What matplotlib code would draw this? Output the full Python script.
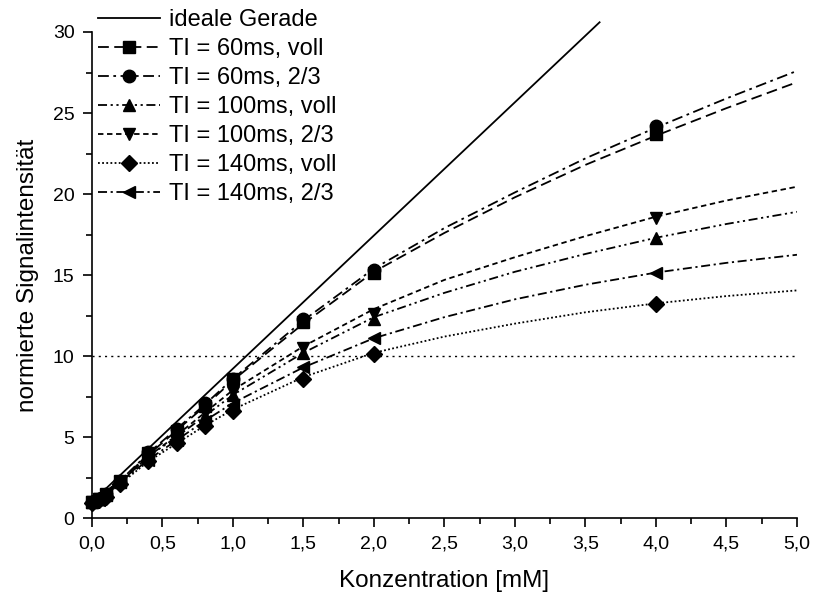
import numpy as np
import matplotlib
matplotlib.use("Agg")
import matplotlib.pyplot as plt
from matplotlib.ticker import MultipleLocator, FuncFormatter

plt.rcParams["font.family"] = ["Liberation Sans", "DejaVu Sans"]

# ── DATA ─────────────────────────────────────────────────────────────────────
conc = [0.0, 0.05, 0.1, 0.2, 0.4, 0.6, 0.8, 1.0, 1.5, 2.0, 4.0]

ti60_voll  = [1.0, 1.2, 1.5, 2.3, 4.0, 5.4, 6.9, 8.6, 12.1, 15.1, 23.7]
ti60_23    = [1.0, 1.2, 1.5, 2.3, 4.1, 5.5, 7.1, 8.6, 12.3, 15.3, 24.2]
ti100_voll = [1.0, 1.2, 1.4, 2.2, 3.8, 5.0, 6.3, 7.6, 10.2, 12.3, 17.3]
ti100_23   = [1.0, 1.2, 1.4, 2.2, 3.8, 5.1, 6.5, 7.8, 10.5, 12.6, 18.5]
ti140_voll = [0.9, 1.1, 1.3, 2.1, 3.5, 4.6, 5.7, 6.6, 8.6, 10.1, 13.2]
ti140_23   = [1.0, 1.1, 1.4, 2.2, 3.6, 4.8, 6.0, 7.0, 9.3, 11.1, 15.1]

# fitted curves, read at these concentrations
fit_x          = [0.0, 0.2, 0.4, 0.6, 0.8, 1.0, 1.5, 2.0, 2.5, 3.0, 3.5, 4.0, 4.5, 5.0]
fit_ti60_voll  = [1.0, 2.3, 3.9, 5.4, 6.9, 8.5, 12.0, 15.2, 17.6, 19.8, 21.8, 23.6, 25.3, 26.9]
fit_ti60_23    = [1.0, 2.3, 4.0, 5.5, 7.0, 8.6, 12.2, 15.4, 17.9, 20.1, 22.2, 24.1, 25.9, 27.6]
fit_ti100_voll = [1.0, 2.2, 3.8, 5.0, 6.3, 7.6, 10.2, 12.4, 13.9, 15.2, 16.3, 17.3, 18.15, 18.9]
fit_ti100_23   = [1.0, 2.2, 3.8, 5.1, 6.5, 7.9, 10.6, 12.9, 14.7, 16.1, 17.4, 18.6, 19.6, 20.45]
fit_ti140_voll = [0.9, 2.1, 3.5, 4.6, 5.7, 6.7, 8.7, 10.2, 11.2, 12.0, 12.7, 13.25, 13.7, 14.05]
fit_ti140_23   = [1.0, 2.2, 3.6, 4.8, 6.0, 7.1, 9.3, 11.1, 12.4, 13.5, 14.4, 15.15, 15.75, 16.25]

ideal_x = [0.0, 3.6]
ideal_y = [1.0, 30.6]

ref_level = 10.0

labels = ["TI = 60ms, voll", "TI = 60ms, 2/3", "TI = 100ms, voll",
          "TI = 100ms, 2/3", "TI = 140ms, voll", "TI = 140ms, 2/3"]
# ─────────────────────────────────────────────────────────────────────────────

series  = [ti60_voll, ti60_23, ti100_voll, ti100_23, ti140_voll, ti140_23]
fits    = [fit_ti60_voll, fit_ti60_23, fit_ti100_voll, fit_ti100_23,
           fit_ti140_voll, fit_ti140_23]
markers = ["s", "o", "^", "v", "D", "<"]
msizes  = [8, 9, 9, 9, 8, 9]
dashes  = [(6, 3),
           (6, 2.5, 1.5, 2.5),
           (5, 2, 1.2, 2, 1.2, 2),
           (3, 2),
           (1, 1.3),
           (5, 2, 1.2, 2)]

fig = plt.figure(figsize=(8.16, 5.97), dpi=100)
ax = fig.add_axes([0.1127, 0.1323, 0.864, 0.8141])

ax.axhline(ref_level, color="black", lw=1.0, dashes=(1.5, 3))
ideal, = ax.plot(ideal_x, ideal_y, color="black", lw=1.3, clip_on=False)

handles = [ideal]
for y, fy, m, ms, d, lab in zip(series, fits, markers, msizes, dashes, labels):
    ax.plot(fit_x, fy, color="black", lw=1.3, dashes=d)
    ax.plot(conc, y, ls="none", marker=m, ms=ms, color="black", clip_on=False)
    h, = ax.plot([], [], color="black", lw=1.3, dashes=d, marker=m, ms=ms)
    handles.append(h)

ax.legend(handles, ["ideale Gerade"] + labels, loc="upper left",
          bbox_to_anchor=(0.119, 0.987), bbox_transform=fig.transFigure,
          frameon=False, fontsize=17, handlelength=2.6, handletextpad=0.4,
          labelspacing=0.30, borderaxespad=0, borderpad=0.05)

ax.set_xlim(0, 5)
ax.set_ylim(0, 30)
ax.xaxis.set_major_locator(MultipleLocator(0.5))
ax.xaxis.set_minor_locator(MultipleLocator(0.25))
ax.yaxis.set_major_locator(MultipleLocator(5))
ax.yaxis.set_minor_locator(MultipleLocator(2.5))
ax.xaxis.set_major_formatter(FuncFormatter(lambda v, p: f"{v:.1f}".replace(".", ",")))
ax.tick_params(which="major", length=6.5, width=1.2, labelsize=14, pad=6, direction="out")
ax.tick_params(which="minor", length=4, width=1.2, direction="out")

for side in ("top", "right"):
    ax.spines[side].set_visible(False)
for side in ("left", "bottom"):
    ax.spines[side].set_linewidth(1.2)

ax.set_xlabel("Konzentration [mM]", fontsize=17.5, labelpad=13)
ax.set_ylabel("normierte Signalintensität", fontsize=17.5, labelpad=10)

fig.savefig("out.png", dpi=100)
